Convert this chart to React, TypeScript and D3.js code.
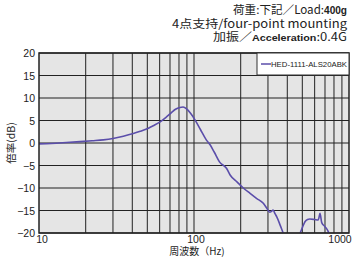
import React from "react";
import * as d3 from "d3";

const freqs = [10, 12, 15, 18.4, 22, 26, 30, 35, 40.6, 45, 50.8, 55, 60.5, 66, 71.8, 76, 81.2, 85, 89.6, 95, 101.7, 110, 120, 127, 135, 146, 162, 171, 190, 208, 230, 253, 280, 295, 308, 316, 324, 333, 342, 360, 376, 400, 440, 484, 500, 520, 540, 558, 600, 632, 640, 650, 667, 700, 735, 750, 800];
const gains = [-0.2, -0.1, 0.1, 0.3, 0.5, 0.7, 1.0, 1.5, 2.1, 2.6, 3.3, 3.9, 4.7, 5.7, 6.8, 7.5, 7.9, 8.0, 7.6, 6.6, 5.1, 3.0, 0.7, -0.4, -2.0, -4.2, -5.6, -7.1, -8.7, -10.0, -11.2, -12.3, -13.4, -14.5, -15.4, -15.2, -14.9, -15.7, -16.4, -18.3, -20.0, -22, -22, -20.0, -18.8, -17.5, -17.0, -16.9, -17.0, -17.1, -16.6, -15.6, -17.7, -18.6, -19.7, -20.5, -22];

const yTicks = [20, 15, 10, 5, 0, -5, -10, -15, -20];
const xTickLabels = [10, 100, 1000];
const xGrid = [20, 30, 40, 50, 60, 70, 80, 90, 100, 200, 300, 400, 500, 600, 700, 800, 900];
const seriesName = "HED-1111-ALS20ABK";

export default function App() {
  const left = 39, right = 349, top = 53, bottom = 233;
  const x = d3.scaleLog().domain([10, 1000]).range([left, right]);
  const y = d3.scaleLinear().domain([-20, 20]).range([bottom, top]);
  const pts = freqs.map((f, i) => [f, gains[i]] as [number, number]);
  const line = d3.line<[number, number]>().x(d => x(d[0])).y(d => y(d[1])).curve(d3.curveMonotoneX);
  const tickFont = "'Liberation Sans', sans-serif";
  const jp = "'Noto Sans CJK JP', sans-serif";
  return (
    <svg width={353} height={257} style={{ position: "absolute", left: 0, top: 0, background: "#fff" }}>
      <defs>
        <clipPath id="plotclip">
          <rect x={left} y={top} width={right - left} height={bottom - top} />
        </clipPath>
      </defs>
      <g fontFamily={jp} fontSize={11.5} textAnchor="end" fill="#222">
        <text x={347} y={14} textLength={114} lengthAdjust="spacingAndGlyphs">荷重:下記／Load:<tspan fontWeight="bold" fontSize={10} fontFamily="'Liberation Sans', sans-serif">400g</tspan></text>
        <text x={347} y={28} textLength={175} lengthAdjust="spacingAndGlyphs">4点支持/four-point mounting</text>
        <text x={347} y={41} textLength={134} lengthAdjust="spacingAndGlyphs">加振／<tspan fontWeight="bold" fontSize={9.5} fontFamily="'Liberation Sans', sans-serif">Acceleration</tspan>:0.4G</text>
      </g>
      <rect x={left} y={top} width={right - left} height={bottom - top} fill="#e5e5e5" />
      {xGrid.map(v => (
        <line key={"x" + v} x1={x(v)} x2={x(v)} y1={top} y2={bottom} stroke="#333" strokeWidth={1.1} />
      ))}
      {yTicks.map(v => (
        <line key={"y" + v} x1={left} x2={right} y1={y(v)} y2={y(v)} stroke="#222" strokeWidth={1.1} />
      ))}
      <g clipPath="url(#plotclip)">
        <path d={line(pts) || ""} fill="none" stroke="#5b4eaa" strokeWidth={1.6} />
      </g>
      <rect x={left} y={top} width={right - left} height={bottom - top} fill="none" stroke="#222" strokeWidth={1.5} />
      <rect x={257} y={top} width={right - 257} height={22} fill="#fff" stroke="#333" strokeWidth={1} />
      <line x1={261} x2={271} y1={64} y2={64} stroke="#5b4eaa" strokeWidth={1.5} />
      <text x={271} y={67} fontFamily={tickFont} fontSize={8} fill="#222" textLength={76} lengthAdjust="spacingAndGlyphs">{seriesName}</text>
      <g fontFamily={tickFont} fontSize={10.5} fill="#222" textAnchor="end">
        {yTicks.map(v => (
          <text key={"yl" + v} x={35} y={y(v) + 4}>{v < 0 ? "\u2212" + Math.abs(v) : v}</text>
        ))}
      </g>
      <g fontFamily={tickFont} fontSize={10.5} fill="#222" textAnchor="middle">
        {xTickLabels.map((v, i) => (
          <text key={"xl" + v} x={x(v) + (i === 0 ? 3 : i === xTickLabels.length - 1 ? -9 : 2)} y={243}>{v}</text>
        ))}
      </g>
      <text x={197} y={254.5} textAnchor="middle" fontFamily={jp} fontSize={10} fill="#222">周波数（Hz)</text>
      <text transform={`translate(15,${143}) rotate(-90)`} textAnchor="middle" fontFamily={jp} fontSize={10.5} fill="#222">倍率(dB)</text>
    </svg>
  );
}
